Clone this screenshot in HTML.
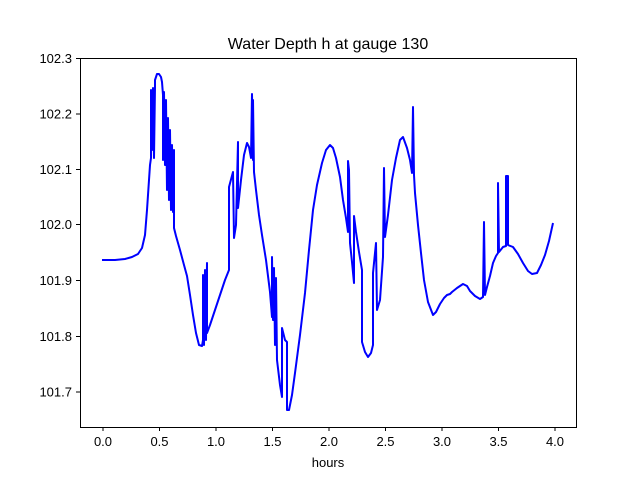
<!DOCTYPE html>
<html><head><meta charset="utf-8"><style>body{margin:0;background:#fff}</style></head><body>
<svg width="640" height="480" xmlns="http://www.w3.org/2000/svg" font-family="Liberation Sans, DejaVu Sans, sans-serif">
<rect width="640" height="480" fill="#fff"/>
<text x="328" y="49" font-size="16" text-anchor="middle">Water Depth h at gauge 130</text>
<polyline fill="none" stroke="#0000ff" stroke-width="2" stroke-linejoin="round" points="
102,260 115,260 125,259 132,257 138,254 142,248 145,235 147,210 149,180 150,165 151,158 151,90 152,150 153,88 154,158 155,86 155,80 157,74 159,74 161,77 162,82 163,95 163,160 164,92 165,165 166,100 167,190 168,118 169,200 170,130 171,210 172,145 173,212 174,150 174,228 176,236 180,250 184,265 187,276 190,295 193,315 196,333 199,345 202,346 203,340 203,275 204,345 205,270 206,340 207,263 207,333 210,325 215,310 220,295 225,280 229,270 229,187 233,172 234,238 236,225 238,142 238,208 241,180 244,155 247,143 249,147 251,158 252,94 253,160 253,100 254,172 256,190 259,215 262,235 266,260 270,292 272,317 272,257 273,320 274,268 275,345 276,278 277,360 280,385 282,397 282,328 285,340 287,342 287,410 289,410 292,395 295,373 300,335 305,293 309,250 313,210 317,185 322,163 326,150 330,145 333,148 336,158 340,177 343,200 346,218 348,232 348,161 349,170 350,243 352,262 354,283 354,216 356,232 359,252 362,270 362,342 365,352 368,357 371,353 373,345 373,273 376,243 377,310 380,300 383,257 384,168 385,237 388,215 392,180 396,158 400,140 403,137 407,148 410,160 412,173 413,107 414,175 415,193 418,225 421,253 424,280 428,302 433,315 436,312 440,304 444,298 447,295 450,294 452,292 457,288 463,284 467,286 470,291 475,296 480,299 483,297 484,222 485,295 487,287 490,276 493,263 496,256 498,253 498,183 499,252 503,247 506,246 506,176 508,176 508,245 513,247 518,254 523,263 528,271 532,274 537,273 541,265 545,255 549,241 553,223"/>
<rect x="80.5" y="58.5" width="496" height="369" fill="none" stroke="#000" stroke-width="1"/>
<g stroke="#000" stroke-width="1">
<line x1="103" y1="427" x2="103" y2="431"/><line x1="159.5" y1="427" x2="159.5" y2="431"/><line x1="216" y1="427" x2="216" y2="431"/><line x1="272.5" y1="427" x2="272.5" y2="431"/><line x1="329" y1="427" x2="329" y2="431"/><line x1="385.5" y1="427" x2="385.5" y2="431"/><line x1="442" y1="427" x2="442" y2="431"/><line x1="498.5" y1="427" x2="498.5" y2="431"/><line x1="555" y1="427" x2="555" y2="431"/>
<line x1="76" y1="58.5" x2="80" y2="58.5"/><line x1="76" y1="114" x2="80" y2="114"/><line x1="76" y1="169.5" x2="80" y2="169.5"/><line x1="76" y1="224.5" x2="80" y2="224.5"/><line x1="76" y1="280.5" x2="80" y2="280.5"/><line x1="76" y1="336.5" x2="80" y2="336.5"/><line x1="76" y1="392" x2="80" y2="392"/>
</g>
<g font-size="13" text-anchor="middle">
<text x="103" y="446">0.0</text><text x="159.5" y="446">0.5</text><text x="216" y="446">1.0</text><text x="272.5" y="446">1.5</text><text x="329" y="446">2.0</text><text x="385.5" y="446">2.5</text><text x="442" y="446">3.0</text><text x="498.5" y="446">3.5</text><text x="555" y="446">4.0</text>
<text x="328" y="467">hours</text>
</g>
<g font-size="13" text-anchor="end">
<text x="72" y="63">102.3</text><text x="72" y="118.5">102.2</text><text x="72" y="174">102.1</text><text x="72" y="229">102.0</text><text x="72" y="285">101.9</text><text x="72" y="341">101.8</text><text x="72" y="396.5">101.7</text>
</g>
</svg>
</body></html>
